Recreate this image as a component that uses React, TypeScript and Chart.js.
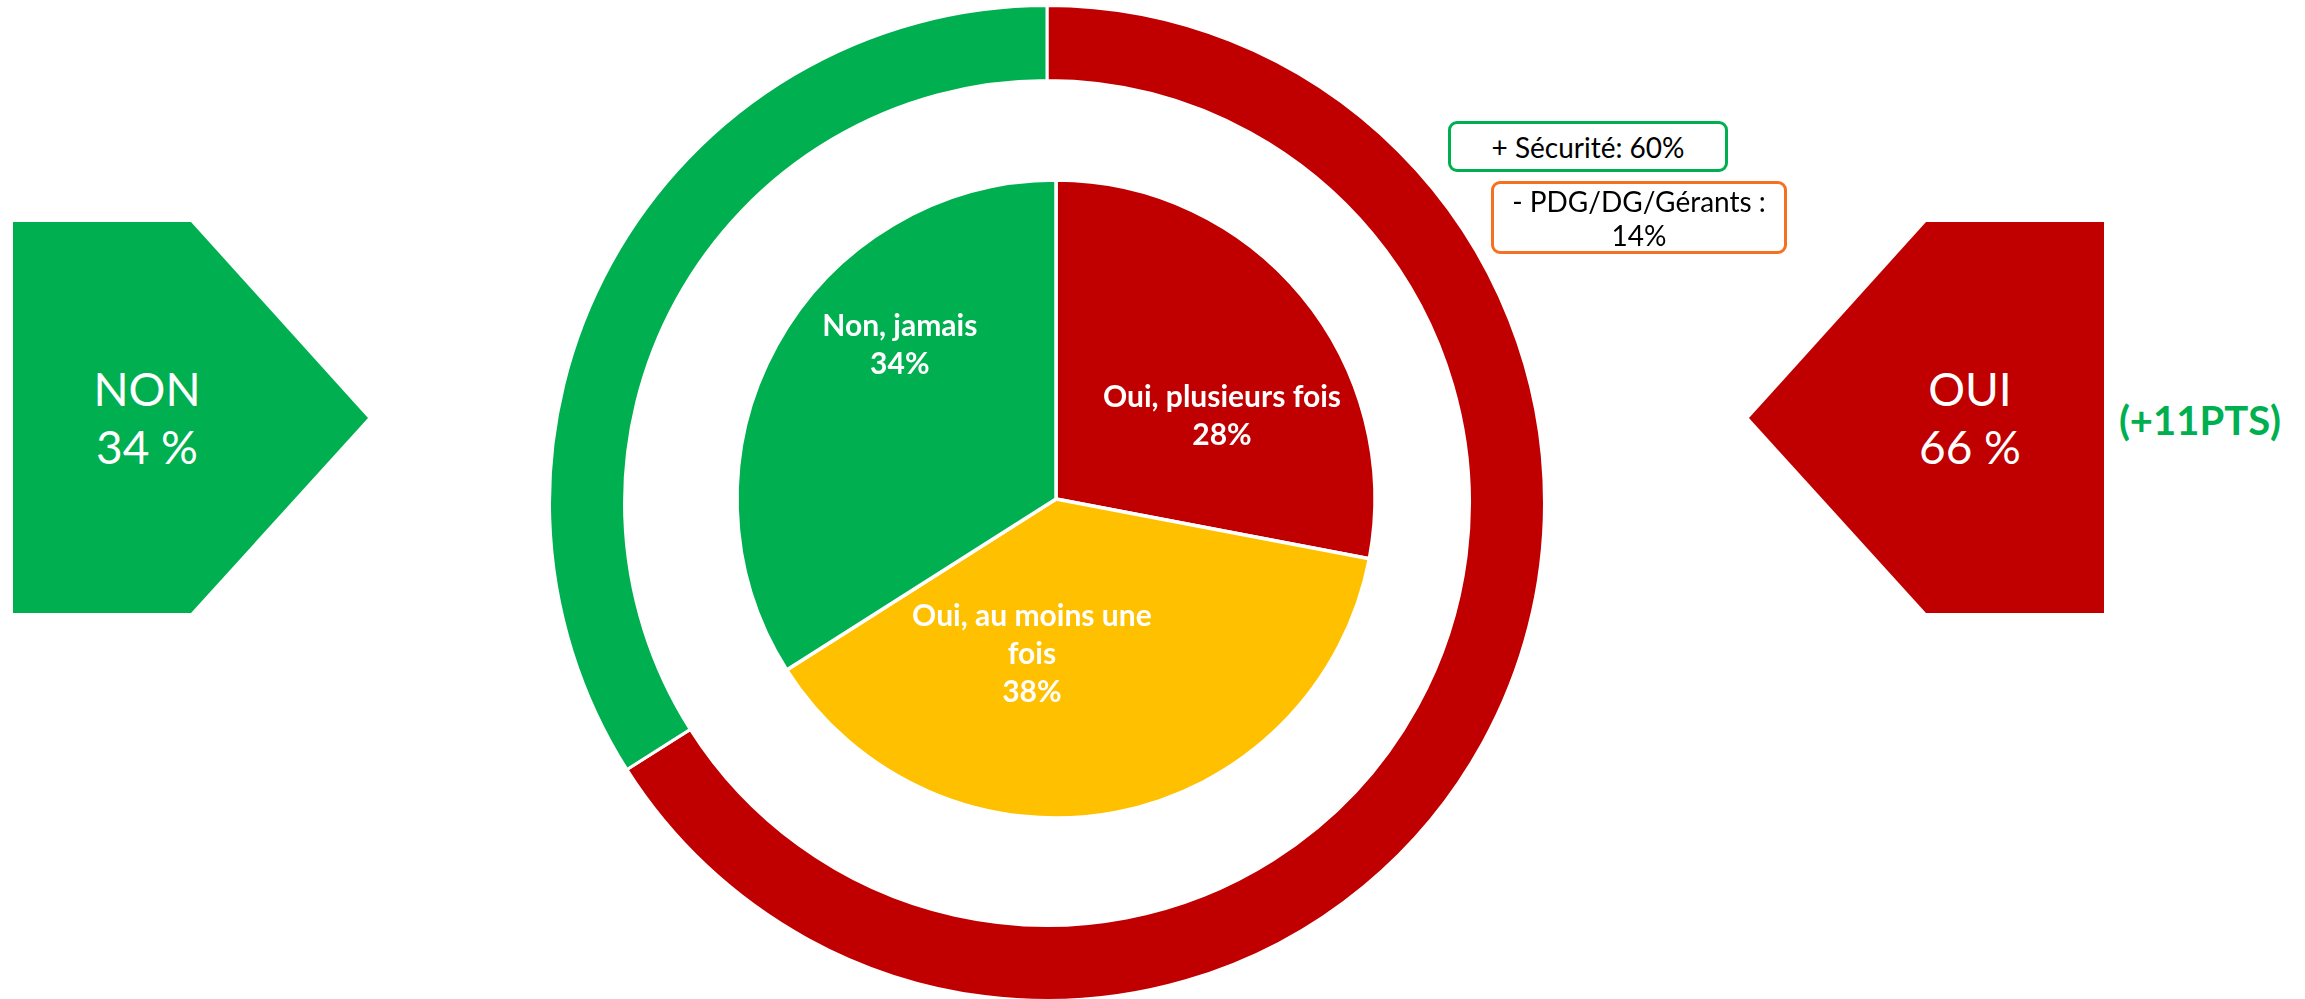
import React, { useEffect, useRef } from "react";
import { Chart, registerables } from "chart.js";

Chart.register(...registerables);

// ---------- DATA ----------
const ringCategories = ["OUI", "NON"];
const ringValues = [66, 34];
const ringColors = ["#C00000", "#00B050"];

const pieCategories = ["Oui, plusieurs fois", "Oui, au moins une fois", "Non, jamais"];
const pieValues = [28, 38, 34];
const pieColors = ["#C00000", "#FFC000", "#00B050"];

const evolutionText = "(+11PTS)";
const calloutPlus = "+ Sécurité: 60%";
const calloutMinusLines = ["- PDG/DG/Gérants :", "14%"];

// label placement inside the pie (angle from top, clockwise, and fraction of radius)
const pieLabelPlacement = [
  { angle: 63.2, r: 0.583 },
  { angle: 188.9, r: 0.489 },
  { angle: 314.8, r: 0.69 },
];

const FONT = "Lato, 'Open Sans', sans-serif";
const LABEL_SIZE = 30;
const LABEL_LH = 38;
const LABEL_MAXW = 250;

function wrapText(ctx: CanvasRenderingContext2D, text: string, maxW: number): string[] {
  const words = text.split(" ");
  const lines: string[] = [];
  let cur = "";
  for (const w of words) {
    const test = cur ? cur + " " + w : w;
    if (ctx.measureText(test).width > maxW && cur) {
      lines.push(cur);
      cur = w;
    } else {
      cur = test;
    }
  }
  if (cur) lines.push(cur);
  return lines;
}

const pieLabelPlugin = {
  id: "pieLabels",
  afterDatasetsDraw(chart: any) {
    const meta = chart.getDatasetMeta(0);
    const ctx: CanvasRenderingContext2D = chart.ctx;
    ctx.save();
    ctx.font = `bold ${LABEL_SIZE}px ${FONT}`;
    ctx.fillStyle = "#FFFFFF";
    ctx.textAlign = "center";
    ctx.textBaseline = "alphabetic";
    meta.data.forEach((arc: any, i: number) => {
      const p = arc.getProps(["x", "y", "outerRadius"], true);
      const place = pieLabelPlacement[i];
      const a = ((place.angle - 90) * Math.PI) / 180;
      const cx = p.x + Math.cos(a) * p.outerRadius * place.r;
      const cy = p.y + Math.sin(a) * p.outerRadius * place.r;
      const lines = [...wrapText(ctx, String(chart.data.labels[i]), LABEL_MAXW), `${chart.data.datasets[0].data[i]}%`];
      lines.forEach((ln, k) => {
        const mid = cy + (k - (lines.length - 1) / 2) * LABEL_LH;
        ctx.fillText(ln, cx, mid + LABEL_SIZE * 0.36);
      });
    });
    ctx.restore();
  },
};

function RingChart() {
  const ref = useRef<HTMLCanvasElement | null>(null);
  useEffect(() => {
    if (!ref.current) return;
    const chart = new Chart(ref.current, {
      type: "doughnut",
      data: {
        labels: ringCategories,
        datasets: [
          {
            data: ringValues,
            backgroundColor: ringColors,
            borderColor: "#FFFFFF",
            borderWidth: 3,
          },
        ],
      },
      options: {
        responsive: false,
        animation: false,
        radius: 497.5,
        cutout: "84.92%",
        layout: { padding: 0 },
        plugins: { legend: { display: false }, tooltip: { enabled: false } },
      } as any,
    });
    return () => chart.destroy();
  }, []);
  return (
    <canvas
      ref={ref}
      width={1000}
      height={1000}
      style={{ position: "absolute", left: 547, top: 3, width: 1000, height: 1000 }}
    />
  );
}

function PieChart() {
  const ref = useRef<HTMLCanvasElement | null>(null);
  useEffect(() => {
    if (!ref.current) return;
    const chart = new Chart(ref.current, {
      type: "pie",
      data: {
        labels: pieCategories,
        datasets: [
          {
            data: pieValues,
            backgroundColor: pieColors,
            borderColor: "#FFFFFF",
            borderWidth: 3.5,
          },
        ],
      },
      options: {
        responsive: false,
        animation: false,
        radius: 319,
        layout: { padding: 0 },
        plugins: { legend: { display: false }, tooltip: { enabled: false } },
      } as any,
      plugins: [pieLabelPlugin],
    });
    return () => chart.destroy();
  }, []);
  return (
    <canvas
      ref={ref}
      width={700}
      height={700}
      style={{ position: "absolute", left: 706, top: 149, width: 700, height: 700 }}
    />
  );
}

export default function App() {
  const arrowText: React.CSSProperties = {
    position: "absolute",
    width: 220,
    textAlign: "center",
    color: "#FFFFFF",
    fontFamily: FONT,
    fontWeight: 400,
    fontSize: 46,
    lineHeight: "58px",
    whiteSpace: "nowrap",
  };
  return (
    <div
      style={{
        position: "fixed",
        left: 0,
        top: 0,
        width: 2305,
        height: 999,
        overflow: "hidden",
        background: "#FFFFFF",
        fontFamily: FONT,
      }}
    >
      <RingChart />
      <PieChart />

      {/* NON arrow */}
      <div
        style={{
          position: "absolute",
          left: 13,
          top: 222,
          width: 355,
          height: 391,
          background: ringColors[1],
          clipPath: "polygon(0px 0px, 178px 0px, 355px 196px, 178px 391px, 0px 391px)",
        }}
      />
      <div style={{ ...arrowText, left: 147 - 110, top: 360 }}>
        {ringCategories[1]}
        <br />
        {`${ringValues[1]} %`}
      </div>

      {/* OUI arrow */}
      <div
        style={{
          position: "absolute",
          left: 1749,
          top: 222,
          width: 355,
          height: 391,
          background: ringColors[0],
          clipPath: "polygon(0px 196px, 177px 0px, 355px 0px, 355px 391px, 177px 391px)",
        }}
      />
      <div style={{ ...arrowText, left: 1970 - 110, top: 360 }}>
        {ringCategories[0]}
        <br />
        {`${ringValues[0]} %`}
      </div>

      {/* evolution */}
      <div
        style={{
          position: "absolute",
          left: 2200 - 100,
          top: 420 - 30,
          width: 200,
          height: 60,
          lineHeight: "60px",
          textAlign: "center",
          color: "#00B050",
          fontWeight: 700,
          fontSize: 40,
          whiteSpace: "nowrap",
        }}
      >
        {evolutionText}
      </div>

      {/* callouts */}
      <div
        style={{
          position: "absolute",
          left: 1448,
          top: 121,
          width: 280,
          height: 51,
          boxSizing: "border-box",
          border: "3px solid #00B050",
          borderRadius: 9,
          background: "#FFFFFF",
          display: "flex",
          alignItems: "center",
          justifyContent: "center",
          fontSize: 28,
          color: "#000000",
          whiteSpace: "nowrap",
        }}
      >
        {calloutPlus}
      </div>
      <div
        style={{
          position: "absolute",
          left: 1491,
          top: 181,
          width: 296,
          height: 73,
          boxSizing: "border-box",
          border: "3px solid #F6711F",
          borderRadius: 9,
          background: "#FFFFFF",
          display: "flex",
          flexDirection: "column",
          alignItems: "center",
          justifyContent: "center",
          fontSize: 28,
          lineHeight: "34px",
          color: "#000000",
          whiteSpace: "nowrap",
        }}
      >
        {calloutMinusLines.map((l, i) => (
          <div key={i}>{l}</div>
        ))}
      </div>
    </div>
  );
}
